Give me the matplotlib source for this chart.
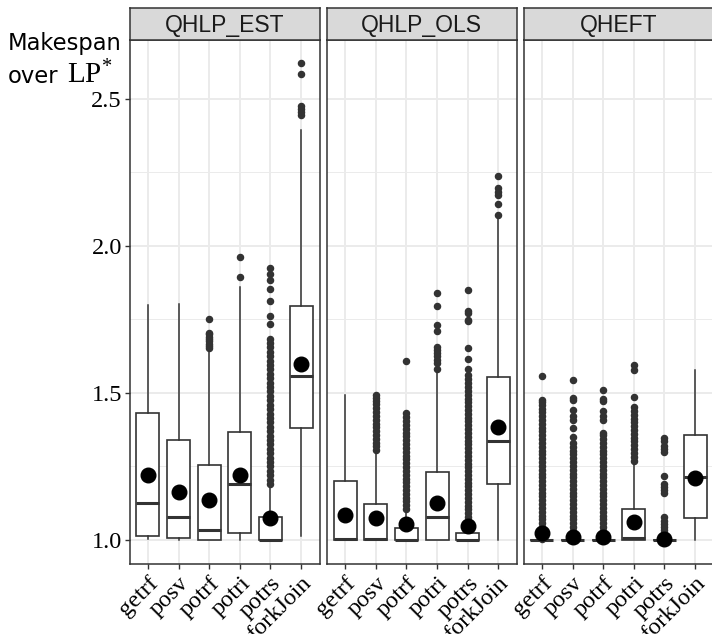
import matplotlib
matplotlib.use("Agg")
import matplotlib.pyplot as plt
from matplotlib.transforms import ScaledTranslation

plt.rcParams['mathtext.fontset'] = 'custom'
plt.rcParams['mathtext.rm'] = 'Liberation Serif'
plt.rcParams['mathtext.it'] = 'Liberation Serif:italic'

categories = ["getrf", "posv", "potrf", "potri", "potrs", "forkJoin"]
panels = ["QHLP_EST", "QHLP_OLS", "QHEFT"]

# per panel: lists in category order
q1 = {
    "QHLP_EST": [1.015, 1.007, 1.000, 1.023, 1.000, 1.382],
    "QHLP_OLS": [1.000, 1.000, 1.000, 1.000, 1.000, 1.189],
    "QHEFT":    [1.000, 1.000, 1.000, 1.000, 1.000, 1.076],
}
med = {
    "QHLP_EST": [1.125, 1.077, 1.035, 1.191, 1.000, 1.559],
    "QHLP_OLS": [1.002, 1.002, 1.001, 1.079, 1.001, 1.337],
    "QHEFT":    [1.000, 1.000, 1.000, 1.008, 1.000, 1.215],
}
q3 = {
    "QHLP_EST": [1.433, 1.339, 1.256, 1.366, 1.078, 1.794],
    "QHLP_OLS": [1.200, 1.123, 1.041, 1.230, 1.025, 1.553],
    "QHEFT":    [1.000, 1.000, 1.000, 1.106, 1.000, 1.358],
}
whislo = {
    "QHLP_EST": [1.002, 1.000, 1.000, 1.001, 1.000, 1.015],
    "QHLP_OLS": [1.000, 1.000, 1.000, 1.000, 1.000, 1.000],
    "QHEFT":    [1.000, 1.000, 1.000, 1.000, 1.000, 1.000],
}
whishi = {
    "QHLP_EST": [1.799, 1.802, 1.640, 1.860, 1.184, 2.395],
    "QHLP_OLS": [1.494, 1.300, 1.100, 1.570, 1.060, 2.102],
    "QHEFT":    [1.000, 1.000, 1.000, 1.259, 1.000, 1.578],
}
means = {
    "QHLP_EST": [1.222, 1.164, 1.136, 1.220, 1.074, 1.598],
    "QHLP_OLS": [1.085, 1.074, 1.054, 1.125, 1.048, 1.383],
    "QHEFT":    [1.023, 1.011, 1.011, 1.061, 1.002, 1.211],
}

outliers = {
    "QHLP_EST": [
        [],
        [],
        [1.652, 1.660, 1.668, 1.675, 1.683, 1.690, 1.700, 1.705, 1.750],
        [1.896, 1.964],
        [1.190, 1.205, 1.220, 1.235, 1.250, 1.265, 1.280, 1.295, 1.310, 1.325,
         1.340, 1.355, 1.370, 1.385, 1.400, 1.415, 1.430, 1.445, 1.460, 1.475,
         1.490, 1.505, 1.520, 1.535, 1.550, 1.565, 1.580, 1.595, 1.610, 1.625,
         1.640, 1.655, 1.670, 1.684, 1.733, 1.760, 1.814, 1.853, 1.885, 1.905,
         1.925],
        [2.446, 2.456, 2.466, 2.476, 2.585, 2.621],
    ],
    "QHLP_OLS": [
        [],
        [1.305, 1.318, 1.331, 1.344, 1.357, 1.370, 1.383, 1.396, 1.409, 1.422,
         1.435, 1.448, 1.461, 1.474, 1.484, 1.494],
        [1.105, 1.118, 1.131, 1.144, 1.157, 1.170, 1.183, 1.196, 1.209, 1.222,
         1.235, 1.248, 1.261, 1.274, 1.287, 1.300, 1.313, 1.326, 1.339, 1.352,
         1.365, 1.378, 1.391, 1.404, 1.417, 1.431, 1.610],
        [1.580, 1.601, 1.612, 1.624, 1.635, 1.646, 1.657, 1.711, 1.731, 1.794,
         1.839],
        [1.065, 1.078, 1.091, 1.104, 1.117, 1.130, 1.143, 1.156, 1.169, 1.182,
         1.195, 1.208, 1.221, 1.234, 1.247, 1.260, 1.273, 1.286, 1.299, 1.312,
         1.325, 1.338, 1.351, 1.364, 1.377, 1.390, 1.403, 1.416, 1.429, 1.442,
         1.455, 1.468, 1.481, 1.494, 1.507, 1.520, 1.533, 1.546, 1.561, 1.582,
         1.615, 1.652, 1.743, 1.748, 1.771, 1.779, 1.850],
        [2.105, 2.142, 2.173, 2.185, 2.196, 2.239],
    ],
    "QHEFT": [
        [1.005, 1.018, 1.031, 1.044, 1.057, 1.070, 1.083, 1.096, 1.109, 1.122,
         1.135, 1.148, 1.161, 1.174, 1.187, 1.200, 1.213, 1.226, 1.239, 1.252,
         1.265, 1.278, 1.291, 1.304, 1.317, 1.330, 1.343, 1.356, 1.369, 1.382,
         1.395, 1.408, 1.421, 1.434, 1.447, 1.460, 1.470, 1.476, 1.559],
        [1.005, 1.018, 1.031, 1.044, 1.057, 1.070, 1.083, 1.096, 1.109, 1.122,
         1.135, 1.148, 1.161, 1.174, 1.187, 1.200, 1.213, 1.226, 1.239, 1.252,
         1.265, 1.278, 1.291, 1.304, 1.317, 1.330, 1.351, 1.380, 1.408, 1.420,
         1.442, 1.476, 1.483, 1.544],
        [1.005, 1.018, 1.031, 1.044, 1.057, 1.070, 1.083, 1.096, 1.109, 1.122,
         1.135, 1.148, 1.161, 1.174, 1.187, 1.200, 1.213, 1.226, 1.239, 1.252,
         1.265, 1.278, 1.291, 1.304, 1.317, 1.330, 1.343, 1.356, 1.363, 1.408,
         1.420, 1.437, 1.474, 1.480, 1.510],
        [1.270, 1.283, 1.296, 1.309, 1.322, 1.335, 1.348, 1.361, 1.374, 1.387,
         1.400, 1.413, 1.426, 1.439, 1.453, 1.487, 1.578, 1.595],
        [1.005, 1.015, 1.025, 1.035, 1.045, 1.055, 1.065, 1.079, 1.159, 1.170,
         1.180, 1.190, 1.217, 1.300, 1.310, 1.320, 1.335, 1.346],
        [],
    ],
}

yticks = [1.0, 1.5, 2.0, 2.5]
yticklabels = ["1.0", "1.5", "2.0", "2.5"]

W, H = 712, 634
fig = plt.figure(figsize=(W / 100, H / 100), dpi=100)

dark = "#333333"
grid = "#EBEBEB"
panel_lefts = [129.5, 326.7, 523.5]
panel_w = 190.0
panel_top, panel_bot = 39.5, 563.5
strip_top = 7.5
label_shift = ScaledTranslation(6 / 100, -3 / 100, fig.dpi_scale_trans)

for pi, (name, left) in enumerate(zip(panels, panel_lefts)):
    ax = fig.add_axes([left / W, (H - panel_bot) / H, panel_w / W,
                       (panel_bot - panel_top) / H])
    stats = []
    for ci, cat in enumerate(categories):
        stats.append(dict(
            label=cat,
            q1=q1[name][ci], med=med[name][ci], q3=q3[name][ci],
            whislo=whislo[name][ci], whishi=whishi[name][ci],
            mean=means[name][ci], fliers=outliers[name][ci],
        ))
    positions = list(range(1, len(categories) + 1))
    ax.bxp(stats, positions=positions, widths=0.75, showcaps=False,
           showmeans=True, patch_artist=True,
           boxprops=dict(facecolor="white", edgecolor=dark, linewidth=1.2),
           medianprops=dict(color=dark, linewidth=2.2, solid_capstyle="butt"),
           whiskerprops=dict(color=dark, linewidth=1.1),
           flierprops=dict(marker="o", markerfacecolor=dark,
                           markeredgecolor=dark, markersize=4.4,
                           linestyle="none", zorder=3),
           meanprops=dict(marker="o", markerfacecolor="black",
                          markeredgecolor="black", markersize=10.5,
                          linestyle="none", zorder=5))
    ax.set_xlim(0.4, 6.6)
    ax.set_ylim(0.920, 2.702)
    # grid
    ax.set_axisbelow(True)
    for y in [1.25, 1.75, 2.25]:
        ax.axhline(y, color=grid, lw=0.7, zorder=0)
    for y in yticks:
        ax.axhline(y, color=grid, lw=1.4, zorder=0)
    for x in positions:
        ax.axvline(x, color=grid, lw=1.4, zorder=0)
    ax.set_yticks(yticks)
    ax.set_xticks(positions)
    ax.set_xticklabels(categories, rotation=45, ha="right", va="top",
                       rotation_mode="anchor", family="Liberation Serif",
                       fontsize=17.5, color="black")
    for lab in ax.get_xticklabels():
        lab.set_transform(lab.get_transform() + label_shift)
    if pi == 0:
        ax.set_yticklabels(yticklabels, family="Liberation Serif",
                           fontsize=17.5, color="black")
        ax.tick_params(axis="y", length=3.5, width=1.0, color=dark, pad=2)
    else:
        ax.tick_params(axis="y", left=False, labelleft=False)
    ax.tick_params(axis="x", length=3.5, width=1.0, color=dark, pad=3)
    for s in ax.spines.values():
        s.set_color(dark)
        s.set_linewidth(1.1)

    sax = fig.add_axes([left / W, (H - panel_top) / H, panel_w / W,
                        (panel_top - strip_top) / H])
    sax.set_facecolor("#D9D9D9")
    sax.set_xticks([])
    sax.set_yticks([])
    for s in sax.spines.values():
        s.set_color(dark)
        s.set_linewidth(1.1)
    sax.text(0.5, 0.45, name, transform=sax.transAxes, ha="center",
             va="center", family="Liberation Sans", fontsize=16.5,
             color="#1A1A1A")

fig.text(8 / W, 1 - 50 / H, "Makespan", ha="left", va="baseline",
         family="DejaVu Sans", fontsize=16.3)
fig.text(8 / W, 1 - 83 / H, "over", ha="left", va="baseline",
         family="DejaVu Sans", fontsize=16.3)
fig.text(67 / W, 1 - 83 / H, r"LP$^{*}$", ha="left", va="baseline",
         family="Liberation Serif", fontsize=21)

fig.savefig("out.png", dpi=100)
